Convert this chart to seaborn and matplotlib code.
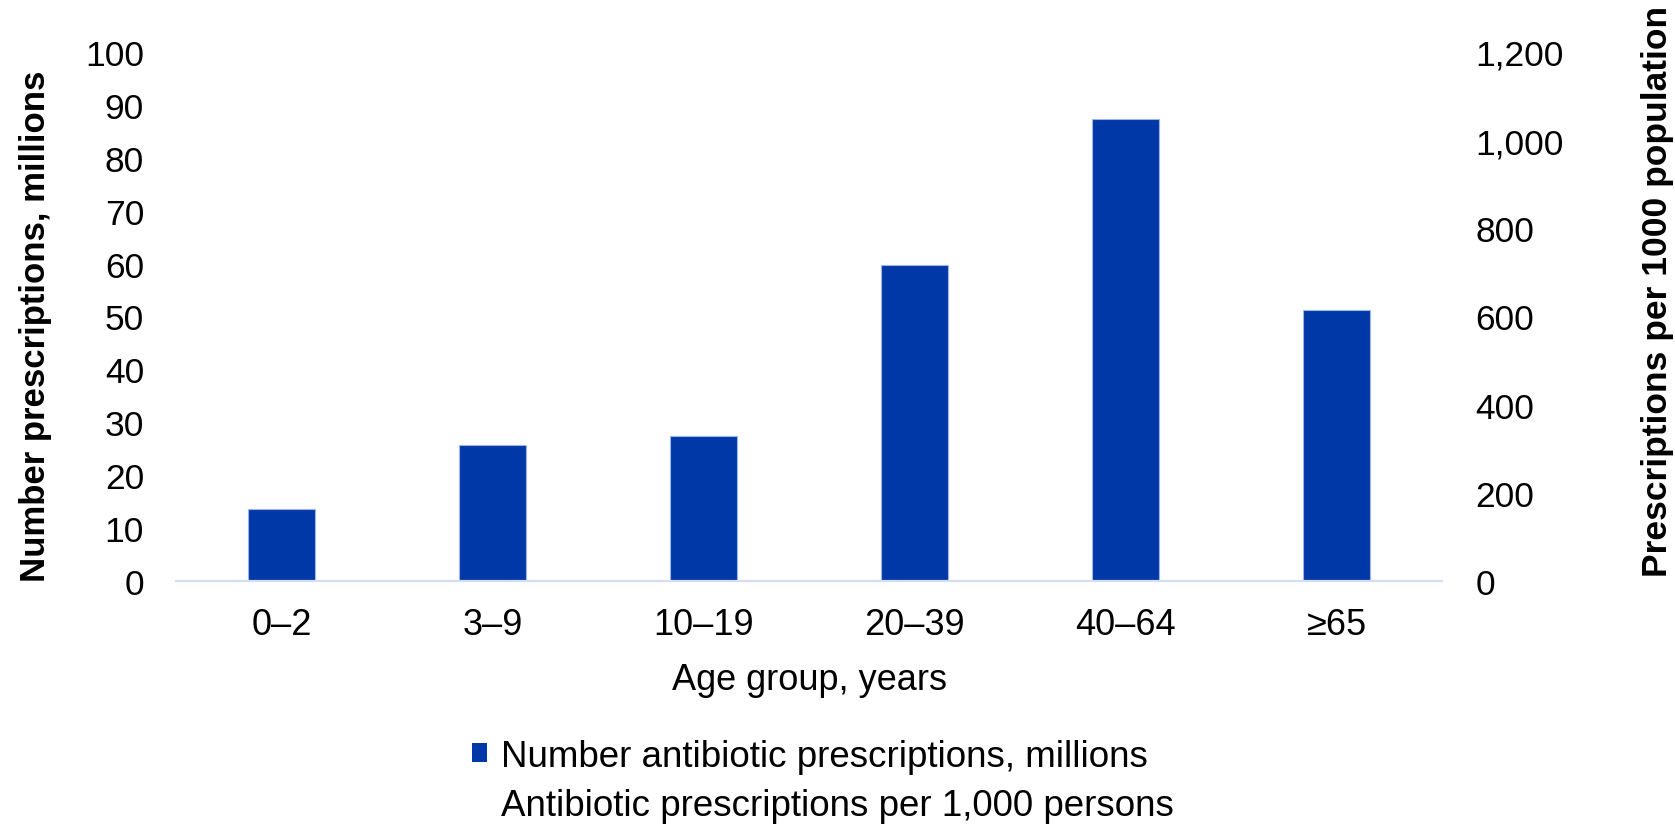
import matplotlib
matplotlib.use("Agg")
import matplotlib.pyplot as plt
import seaborn as sns
import pandas as pd
from matplotlib.patches import Patch
from matplotlib.lines import Line2D
from matplotlib.ticker import FuncFormatter

# ---- data ----
age_groups = ["0\u20132", "3\u20139", "10\u201319", "20\u201339", "40\u201364", "\u226565"]
prescriptions_millions = [13.7, 25.8, 27.4, 59.7, 87.3, 51.2]
left_ticks = list(range(0, 101, 10))
right_ticks = list(range(0, 1201, 200))
bar_label = "Number antibiotic prescriptions, millions"
rate_label = "Antibiotic prescriptions per 1,000 persons"

sns.set_theme(style="white")
plt.rcParams["font.family"] = ["Liberation Sans", "DejaVu Sans"]
plt.rcParams["text.color"] = "black"
plt.rcParams["axes.labelcolor"] = "black"
plt.rcParams["xtick.color"] = "black"
plt.rcParams["ytick.color"] = "black"

BAR = "#0038A8"
AXLINE = "#D3DDF5"

W, H = 1675, 828
fig = plt.figure(figsize=(W / 100, H / 100), dpi=100)
fig.patch.set_facecolor("white")
ax_l, ax_r, ax_t, ax_b = 176, 1442, 53, 582
ax = fig.add_axes([ax_l / W, 1 - ax_b / H, (ax_r - ax_l) / W, (ax_b - ax_t) / H])

df = pd.DataFrame({"age": age_groups, "value": prescriptions_millions})
sns.barplot(data=df, x="age", y="value", color=BAR, saturation=1, width=0.313,
            edgecolor="#9DB5EA", linewidth=0.8, ax=ax)

ax.set_xlim(-0.5, len(age_groups) - 0.5)
ax.set_ylim(0, 100)
ax.set_yticks(left_ticks)
for s in ["top", "right", "left"]:
    ax.spines[s].set_visible(False)
ax.spines["bottom"].set_color(AXLINE)
ax.spines["bottom"].set_linewidth(1.6)
ax.tick_params(axis="both", length=0, colors="black")
ax.tick_params(axis="y", labelsize=25.5, pad=23)
ax.tick_params(axis="x", labelsize=26, pad=19)
ax.set_xlabel("Age group, years", fontsize=26, labelpad=14, color="black")
ax.set_ylabel("Number prescriptions, millions", fontsize=25, fontweight="bold",
              color="black")
ax.yaxis.set_label_coords(-0.098, 0.484)

ax2 = ax.twinx()
ax2.set_ylim(0, 1200)
ax2.set_yticks(right_ticks)
ax2.yaxis.set_major_formatter(FuncFormatter(lambda v, p: f"{int(v):,}"))
for s in ["top", "right", "left", "bottom"]:
    ax2.spines[s].set_visible(False)
ax2.tick_params(axis="y", length=0, labelsize=25.5, pad=24, colors="black")
ax2.set_ylabel("Prescriptions per 1000 population", fontsize=25.5, fontweight="bold",
               rotation=90, color="black")
ax2.yaxis.set_label_coords(1.157, 0.55)
ax2.grid(False)
ax.grid(False)

handles = [Patch(facecolor=BAR, edgecolor="none"),
           Line2D([], [], linestyle="none")]
fig.legend(handles, [bar_label, rate_label], loc="upper left",
           bbox_to_anchor=(472 / W, 1 - 740 / H), frameon=False,
           fontsize=26.5, handlelength=0.42, handleheight=0.42,
           handletextpad=0.38, labelspacing=0.38, borderpad=0, borderaxespad=0)

fig.savefig("out.png", dpi=100, facecolor="white")
